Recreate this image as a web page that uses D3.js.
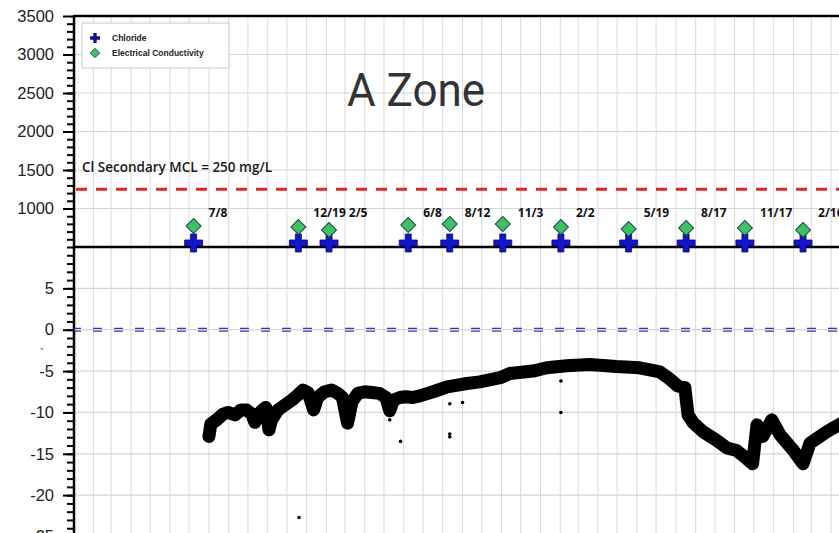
<!DOCTYPE html>
<html>
  <head>
    <meta charset="utf-8">
    <title> A Zone </title>
    <script src="https://d3js.org/d3.v7.min.js"></script>
    <style>
      body { margin: 0; background: white; }
      svg { display: block; }
      .tick text { font-family: "Liberation Sans", Arial; font-size: 16.5px; fill: #222; }
      .tick line { stroke: black; stroke-width: 2; }
      .axis path { display: none; }
    </style>
  </head>
  <body>
    <svg id="main" width="839" height="533"></svg>
    <script>

      // sampling events (top panel)
      var sampleDates = ['2015-07-08', '2015-12-19', '2016-02-05', '2016-06-08', '2016-08-12', '2016-11-03',
                         '2017-02-02', '2017-05-19', '2017-08-17', '2017-11-17', '2018-02-16'];
      var sampleLabels = ['7/8', '12/19', '2/5', '6/8', '8/12', '11/3', '2/2', '5/19', '8/17', '11/17', '2/16'];
      var chlorideValues = [552, 552, 552, 552, 552, 552, 552, 552, 552, 552, 552];
      var ecValues = [772, 759, 720, 785, 798, 798, 759, 733, 746, 746, 720];
      var clLimit = 1250;

      var topTicks = [1000, 1500, 2000, 2500, 3000, 3500];
      var bottomTicks = [-25, -20, -15, -10, -5, 0, 5];

      // water level record (bottom panel)
      var levelDates = ['2015-08-01', '2015-08-04', '2015-08-13', '2015-08-23', '2015-08-31', '2015-09-11',
        '2015-09-20', '2015-09-29', '2015-10-07', '2015-10-12', '2015-10-16', '2015-10-24', '2015-10-29',
        '2015-11-03', '2015-11-07', '2015-11-17', '2015-11-28', '2015-12-09', '2015-12-18', '2015-12-26',
        '2016-01-03', '2016-01-12', '2016-01-18', '2016-01-29', '2016-02-09', '2016-02-19', '2016-02-26',
        '2016-03-05', '2016-03-12', '2016-03-21', '2016-04-01', '2016-04-12', '2016-04-24', '2016-05-04',
        '2016-05-10', '2016-05-16', '2016-05-26', '2016-06-04', '2016-06-15', '2016-06-26', '2016-07-17',
        '2016-08-08', '2016-09-08', '2016-09-28', '2016-10-30', '2016-11-14', '2016-12-20', '2017-01-11',
        '2017-02-11', '2017-03-19', '2017-04-30', '2017-06-05', '2017-07-07', '2017-07-23', '2017-08-04',
        '2017-08-15', '2017-08-20', '2017-08-28', '2017-09-12', '2017-10-04', '2017-10-20', '2017-11-04',
        '2017-11-20', '2017-11-29', '2017-12-06', '2017-12-15', '2017-12-29', '2018-01-11', '2018-01-31',
        '2018-02-16', '2018-02-27', '2018-03-26', '2018-04-20'];
      var levelValues = [-12.9, -11.4, -10.9, -10.2, -10.0, -10.3,
        -9.7, -9.7, -10.2, -11.2, -10.3, -9.7, -9.4,
        -12.1, -10.9, -9.7, -9.1, -8.5, -7.9, -7.3,
        -7.6, -9.7, -8.2, -7.5, -7.3, -7.7, -8.2,
        -11.3, -8.7, -7.7, -7.5, -7.6, -7.7, -8.2,
        -9.8, -8.5, -8.2, -8.1, -8.2, -8.0, -7.5,
        -6.9, -6.5, -6.3, -5.8, -5.3, -5.0, -4.6,
        -4.35, -4.2, -4.45, -4.6, -5.1, -6.0, -6.8,
        -7.0, -10.3, -11.25, -12.3, -13.4, -14.3, -14.6,
        -15.6, -16.2, -11.5, -12.9, -10.9, -12.7, -14.5,
        -16.2, -13.7, -12.3, -11.2];

      var outlierDates = ['2015-12-20', '2016-05-10', '2016-05-27', '2016-08-12', '2016-09-01', '2016-08-12',
                          '2016-08-12', '2017-02-02', '2017-02-02'];
      var outlierValues = [-22.7, -10.9, -13.5, -8.95, -8.8, -12.6, -12.95, -6.2, -10.0];

      var parse = d3.timeParse('%Y-%m-%d');
      var svg = d3.select('svg');
      var fmt = function(d) { return String(d); };

      var PLOT_LEFT = 74, PLOT_RIGHT = 839, PLOT_TOP = 16, PANEL_SPLIT = 247, PLOT_BOTTOM = 533;

      var x = d3.scaleTime()
        .domain([parse('2015-01-01'), parse('2018-05-01')])
        .range([73.5, 850.3]);
      var yTop = d3.scaleLinear().domain([500, 3500]).range([PANEL_SPLIT, PLOT_TOP]);
      var yBot = d3.scaleLinear().domain([-25, 10]).range([536.5, PANEL_SPLIT]);

      svg.append('clipPath').attr('id', 'clipAll')
        .append('rect').attr('x', PLOT_LEFT).attr('y', PLOT_TOP)
        .attr('width', PLOT_RIGHT - PLOT_LEFT).attr('height', PLOT_BOTTOM - PLOT_TOP);
      svg.append('clipPath').attr('id', 'clipBottom')
        .append('rect').attr('x', PLOT_LEFT).attr('y', PANEL_SPLIT)
        .attr('width', PLOT_RIGHT - PLOT_LEFT).attr('height', PLOT_BOTTOM - PANEL_SPLIT);

      // grid
      var grid = svg.append('g').attr('clip-path', 'url(#clipAll)');
      grid.selectAll('line.vgrid')
        .data(x.ticks(d3.timeMonth.every(1)))
        .enter().append('line')
        .attr('x1', function(d) { return x(d); })
        .attr('x2', function(d) { return x(d); })
        .attr('y1', PLOT_TOP).attr('y2', PLOT_BOTTOM)
        .style('stroke', '#d9d9d9').style('stroke-width', 1);
      grid.selectAll('line.htop')
        .data(topTicks)
        .enter().append('line')
        .attr('x1', PLOT_LEFT).attr('x2', PLOT_RIGHT)
        .attr('y1', function(d) { return yTop(d); })
        .attr('y2', function(d) { return yTop(d); })
        .style('stroke', '#d6d6d6').style('stroke-width', 1.2);
      grid.selectAll('line.hbot')
        .data(bottomTicks)
        .enter().append('line')
        .attr('x1', PLOT_LEFT).attr('x2', PLOT_RIGHT)
        .attr('y1', function(d) { return yBot(d); })
        .attr('y2', function(d) { return yBot(d); })
        .style('stroke', '#d6d6d6').style('stroke-width', 1.2);

      // y axes with minor ticks
      svg.append('g').attr('class', 'axis').attr('transform', 'translate(' + PLOT_LEFT + ',0)')
        .call(d3.axisLeft(yTop).tickValues(d3.range(500, 3500, 100)).tickSize(7).tickFormat(''));
      svg.append('g').attr('class', 'axis').attr('transform', 'translate(' + PLOT_LEFT + ',0)')
        .call(d3.axisLeft(yTop).tickValues(topTicks).tickSize(11).tickPadding(9).tickFormat(fmt));
      svg.append('g').attr('class', 'axis').attr('transform', 'translate(' + PLOT_LEFT + ',0)')
        .call(d3.axisLeft(yBot).tickValues(d3.range(-25, 10, 1)).tickSize(7).tickFormat(''));
      svg.append('g').attr('class', 'axis').attr('transform', 'translate(' + PLOT_LEFT + ',0)')
        .call(d3.axisLeft(yBot).tickValues(bottomTicks).tickSize(11).tickPadding(9).tickFormat(fmt));

      // frame lines
      svg.append('line').attr('x1', PLOT_LEFT).attr('x2', PLOT_LEFT).attr('y1', PLOT_TOP - 1).attr('y2', PLOT_BOTTOM)
        .style('stroke', 'black').style('stroke-width', 2.5);
      svg.append('line').attr('x1', PLOT_LEFT).attr('x2', PLOT_RIGHT).attr('y1', PLOT_TOP).attr('y2', PLOT_TOP)
        .style('stroke', 'black').style('stroke-width', 2.5);

      // Cl limit
      svg.append('line')
        .attr('x1', PLOT_LEFT).attr('x2', PLOT_RIGHT)
        .attr('y1', yTop(clLimit)).attr('y2', yTop(clLimit))
        .style('stroke', '#e0262b').style('stroke-width', 2.8)
        .style('stroke-dasharray', '11,9').style('stroke-dashoffset', -2);
      svg.append('text')
        .attr('x', 82).attr('y', 172)
        .style('font-family', '"Open Sans"').style('font-weight', 600).style('font-size', '13.5px')
        .style('fill', '#1a1a1a')
        .text('Cl Secondary MCL = 250 mg/L');

      // zero line (double dashed)
      [-1.4, 1.4].forEach(function(off) {
        svg.append('line')
          .attr('x1', PLOT_LEFT).attr('x2', PLOT_RIGHT)
          .attr('y1', yBot(0) + off).attr('y2', yBot(0) + off)
          .style('stroke', '#3a3aa8').style('stroke-width', 1.3)
          .style('stroke-dasharray', '9,12').style('stroke-dashoffset', 2);
      });

      // water level trace
      var levelData = levelDates.map(function(d, i) { return { date: parse(d), v: levelValues[i] }; });
      var line = d3.line()
        .x(function(d) { return x(d.date); })
        .y(function(d) { return yBot(d.v); });
      svg.append('path')
        .datum(levelData)
        .attr('clip-path', 'url(#clipBottom)')
        .attr('d', line)
        .style('fill', 'none').style('stroke', 'black')
        .style('stroke-width', 13).style('stroke-linejoin', 'round').style('stroke-linecap', 'round');

      svg.append('g').attr('clip-path', 'url(#clipBottom)')
        .selectAll('circle')
        .data(outlierDates)
        .enter().append('circle')
        .attr('cx', function(d) { return x(parse(d)); })
        .attr('cy', function(d, i) { return yBot(outlierValues[i]); })
        .attr('r', 1.8)
        .style('fill', 'black');

      // separator between panels
      svg.append('line').attr('x1', PLOT_LEFT).attr('x2', PLOT_RIGHT).attr('y1', PANEL_SPLIT).attr('y2', PANEL_SPLIT)
        .style('stroke', 'black').style('stroke-width', 2.5);

      // sample markers
      var crossSym = d3.symbol().type(d3.symbolCross).size(180);
      var diamondSym = d3.symbol().type(d3.symbolSquare).size(112);

      svg.selectAll('path.cl')
        .data(sampleDates)
        .enter().append('path')
        .attr('d', crossSym)
        .attr('transform', function(d, i) {
          return 'translate(' + x(parse(d)) + ',' + yTop(chlorideValues[i]) + ')';
        })
        .style('fill', '#1414c8').style('stroke', '#0a0a70').style('stroke-width', 0.8);

      svg.selectAll('path.ec')
        .data(sampleDates)
        .enter().append('path')
        .attr('d', diamondSym)
        .attr('transform', function(d, i) {
          return 'translate(' + x(parse(d)) + ',' + yTop(ecValues[i]) + ') rotate(45)';
        })
        .style('fill', '#3cc06c').style('stroke', '#1d4d2d').style('stroke-width', 1);

      // date labels, nudged so they don't overlap
      var prevEnd = -Infinity;
      var labels = svg.append('g').attr('clip-path', 'url(#clipAll)');
      sampleDates.forEach(function(d, i) {
        var lx = Math.max(x(parse(d)) + 15, prevEnd + 3);
        var t = labels.append('text')
          .attr('x', lx).attr('y', 217)
          .style('font-family', '"Open Sans"').style('font-weight', 700).style('font-size', '12px')
          .style('fill', '#111')
          .text(sampleLabels[i]);
        prevEnd = lx + t.node().getComputedTextLength();
      });

      // title
      svg.append('text')
        .attr('x', 347).attr('y', 106)
        .attr('textLength', 138).attr('lengthAdjust', 'spacingAndGlyphs')
        .style('font-family', 'Roboto').style('font-size', '46px')
        .style('fill', '#333')
        .text('A Zone');

      // legend
      var legend = svg.append('g').attr('transform', 'translate(82,23)');
      legend.append('rect').attr('width', 147).attr('height', 45)
        .style('fill', 'white').style('stroke', '#c8c8c8').style('stroke-width', 1);
      legend.append('path').attr('d', d3.symbol().type(d3.symbolCross).size(55)())
        .attr('transform', 'translate(13,15)').style('fill', '#10108e');
      legend.append('path').attr('d', d3.symbol().type(d3.symbolSquare).size(45)())
        .attr('transform', 'translate(13,30) rotate(45)')
        .style('fill', '#3cc06c').style('stroke', '#1d4d2d').style('stroke-width', 0.8);
      legend.append('text').attr('x', 30).attr('y', 18)
        .style('font-family', '"Liberation Sans", Arial').style('font-weight', 700).style('font-size', '8.5px')
        .style('fill', '#222').text('Chloride');
      legend.append('text').attr('x', 30).attr('y', 33)
        .style('font-family', '"Liberation Sans", Arial').style('font-weight', 700).style('font-size', '8.5px')
        .style('fill', '#222').text('Electrical Conductivity');

      // stray mark left of the axis
      svg.append('text').attr('x', 40).attr('y', 358)
        .style('font-family', '"Liberation Sans", Arial').style('font-size', '12px')
        .style('fill', '#222').text('`');

    </script>
  </body>
</html>
